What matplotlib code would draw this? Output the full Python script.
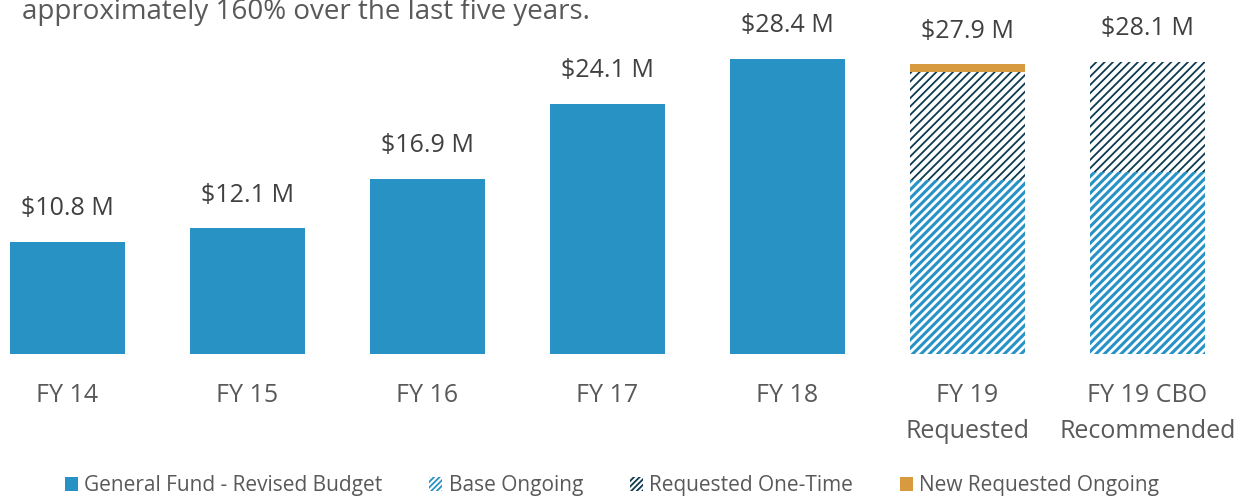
import matplotlib
matplotlib.use("Agg")
import matplotlib.pyplot as plt
from matplotlib.patches import Patch

# data ($ millions)
categories = ["FY 14", "FY 15", "FY 16", "FY 17", "FY 18",
              "FY 19\nRequested", "FY 19 CBO\nRecommended"]
general_fund = [10.8, 12.1, 16.9, 24.1, 28.4]
base_ongoing = [16.8, 17.5]
one_time = [10.4, 10.6]
new_ongoing = [0.7, 0.0]
totals = [10.8, 12.1, 16.9, 24.1, 28.4, 27.9, 28.1]

BLUE = "#2992c5"
NAVY = "#0e3b50"
ORANGE = "#d89a3e"
GRAY = "#595959"
DARK = "#404040"

plt.rcParams["font.family"] = ["Open Sans", "DejaVu Sans"]

fig = plt.figure(figsize=(12.54, 4.97), dpi=100)
ax = fig.add_axes([0, 1 - 354 / 497, 1, 354 / 497])

x_hist = list(range(len(general_fund)))
x_req = [len(general_fund) + i for i in range(len(base_ongoing))]
w = 0.64

ax.bar(x_hist, general_fund, width=w, color=BLUE, linewidth=0)
# hatch linewidth is picked up per patch when it is created
plt.rcParams["hatch.linewidth"] = 2.2
ax.bar(x_req, base_ongoing, width=w, color="white", edgecolor=BLUE,
       hatch="////", linewidth=0)
blue_leg = Patch(facecolor="white", edgecolor=BLUE, hatch="//////", linewidth=0,
                 label="Base Ongoing")
plt.rcParams["hatch.linewidth"] = 1.3
bot = base_ongoing
ax.bar(x_req, one_time, width=w, bottom=bot, color="white", edgecolor=NAVY,
       hatch="////", linewidth=0)
navy_leg = Patch(facecolor="white", edgecolor=NAVY, hatch="//////", linewidth=0,
                 label="Requested One-Time")
bot2 = [b + o for b, o in zip(base_ongoing, one_time)]
ax.bar(x_req, new_ongoing, width=w, bottom=bot2, color=ORANGE, linewidth=0)

tops = general_fund + [b + n for b, n in zip(bot2, new_ongoing)]
for i, (t, v) in enumerate(zip(tops, totals)):
    ax.annotate(f"${v} M", (i, t), xytext=(0, 15), textcoords="offset points",
                ha="center", va="bottom", fontsize=18, color=DARK)

ax.set_xlim(-67.5 / 180, (1254 - 67.5) / 180)
ax.set_ylim(0, 354 / 10.38)
ax.set_xticks(range(len(categories)))
ax.set_xticklabels(categories, fontsize=18, color=GRAY, linespacing=1.55)
ax.tick_params(axis="x", length=0, pad=21)
ax.set_yticks([])
for s in ax.spines.values():
    s.set_visible(False)

fig.text(22 / 1254, 1 - 19 / 497, "approximately 160% over the last five years.",
         fontsize=20, color=GRAY, va="baseline", ha="left")

handles = [
    Patch(facecolor=BLUE, linewidth=0, label="General Fund - Revised Budget"),
    blue_leg,
    navy_leg,
    Patch(facecolor=ORANGE, linewidth=0, label="New Requested Ongoing"),
]
fig.legend(handles=handles, loc="center", bbox_to_anchor=(0.488, 1 - 486 / 497),
           ncol=4, frameon=False, fontsize=15, labelcolor=GRAY,
           handlelength=0.62, handleheight=0.62, handletextpad=0.3,
           columnspacing=2.25)

fig.savefig("out.png", dpi=100)
